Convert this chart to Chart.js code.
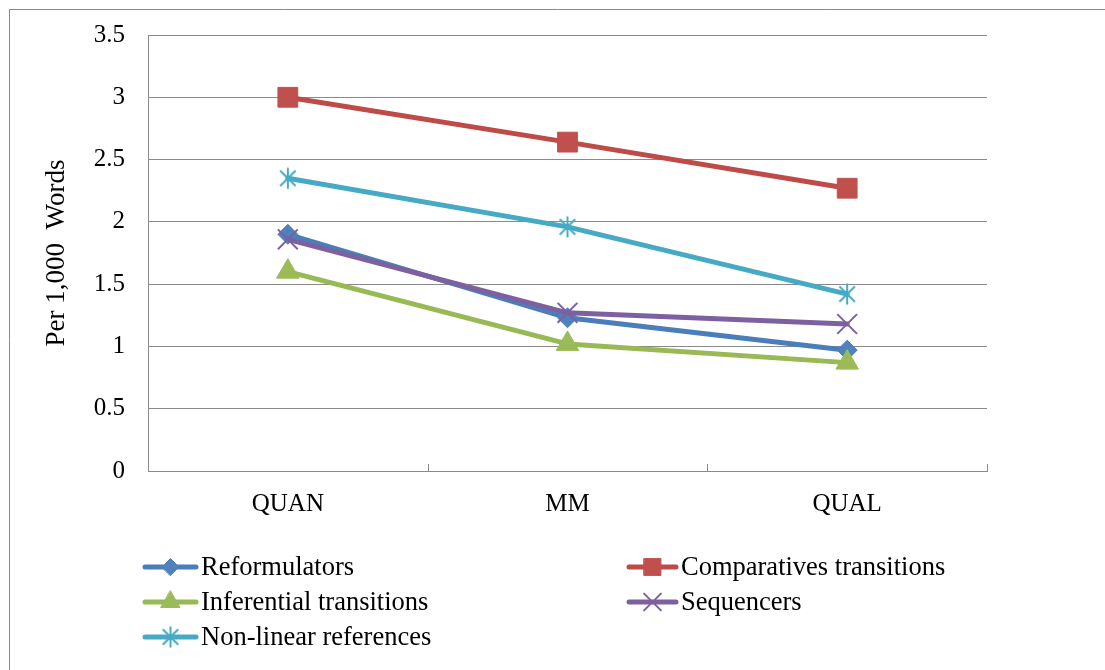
<!DOCTYPE html>
<html>
<head>
<meta charset="utf-8">
<script src="https://cdn.jsdelivr.net/npm/chart.js@4/dist/chart.umd.min.js"></script>
<style>
  html, body { margin: 0; padding: 0; background: #ffffff; }
  #wrap { position: relative; width: 1105px; height: 670px; }
  canvas { display: block; }
</style>
</head>
<body>
<div id="wrap"><canvas id="c" width="1105" height="670"></canvas></div>
<script>
// Research design groups along the x axis
const categories = ['QUAN', 'MM', 'QUAL'];

// Frequency per 1,000 words for each marker type
const reformulators = [1.90, 1.23, 0.97];
const comparativesTransitions = [3.00, 2.64, 2.27];
const inferentialTransitions = [1.60, 1.02, 0.87];
const sequencers = [1.86, 1.27, 1.18];
const nonLinearReferences = [2.35, 1.96, 1.42];

const seriesNames = ['Reformulators', 'Comparatives transitions', 'Inferential transitions', 'Sequencers', 'Non-linear references'];
const yTickValues = [0, 0.5, 1, 1.5, 2, 2.5, 3, 3.5];

const SERIF = '"Liberation Serif", "Times New Roman", serif';
const GRID = '#8a8a8a';

// Six-armed asterisk marker
function makeAsterisk(color) {
  const s = 24, c = document.createElement('canvas');
  c.width = s; c.height = s;
  const g = c.getContext('2d');
  g.strokeStyle = color; g.lineWidth = 2; g.lineCap = 'butt';
  const m = s / 2, r = 10.5, d = r * 0.74;
  g.beginPath();
  g.moveTo(m, m - r); g.lineTo(m, m + r);
  g.moveTo(m - d, m - d); g.lineTo(m + d, m + d);
  g.moveTo(m + d, m - d); g.lineTo(m - d, m + d);
  g.stroke();
  return c;
}

const styles = [
  { color: '#4A7EBB', fill: '#4F81BD', point: 'rectRot', radius: 10, pw: 1 },
  { color: '#BE4B48', fill: '#C0504D', point: 'rect', radius: 14, pw: 1 },
  { color: '#98B954', fill: '#9BBB59', point: 'triangle', radius: 13, pw: 1 },
  { color: '#7D60A0', fill: '#7D60A0', point: 'crossRot', radius: 14, pw: 2 },
  { color: '#46AAC5', fill: '#46AAC5', point: makeAsterisk('#46AAC5'), radius: 12, pw: 2 }
];
const seriesValues = [reformulators, comparativesTransitions, inferentialTransitions, sequencers, nonLinearReferences];

const datasets = seriesValues.map((vals, i) => ({
  label: seriesNames[i],
  data: vals,
  borderColor: styles[i].color,
  backgroundColor: styles[i].fill,
  borderWidth: 5,
  borderCapStyle: 'round',
  borderJoinStyle: 'round',
  tension: 0,
  pointStyle: styles[i].point,
  pointRadius: styles[i].radius,
  pointHoverRadius: styles[i].radius,
  pointBorderColor: styles[i].fill,
  pointBackgroundColor: styles[i].fill,
  pointBorderWidth: styles[i].pw,
  order: seriesValues.length - i
}));

// Outer frame, category ticks and the legend
const decor = {
  id: 'decor',
  beforeDraw(chart) {
    const ctx = chart.ctx;
    ctx.save();
    ctx.fillStyle = '#ffffff';
    ctx.fillRect(0, 0, chart.width, chart.height);
    ctx.strokeStyle = GRID;
    ctx.lineWidth = 1;
    ctx.beginPath();
    ctx.moveTo(9.5, chart.height);
    ctx.lineTo(9.5, 9.5);
    ctx.lineTo(chart.width, 9.5);
    ctx.stroke();
    ctx.restore();
  },
  afterDatasetsDraw(chart) {
    const ctx = chart.ctx, x = chart.scales.x, bottom = chart.chartArea.bottom;
    ctx.save();
    ctx.strokeStyle = GRID;
    ctx.lineWidth = 1;
    ctx.beginPath();
    for (let i = 0; i <= categories.length; i++) {
      const px = Math.round(x.getPixelForValue(i - 0.5)) + 0.5;
      ctx.moveTo(px, bottom);
      ctx.lineTo(px, bottom - 7);
    }
    ctx.stroke();
    ctx.restore();
  },
  afterDraw(chart) {
    const ctx = chart.ctx;
    const cols = [{ x0: 143, x1: 198 }, { x0: 627, x1: 678 }];
    const rows = [567, 602, 637];
    ctx.save();
    ctx.font = '26.5px ' + SERIF;
    ctx.textBaseline = 'middle';
    datasets.forEach((ds, i) => {
      const col = cols[i % 2], y = rows[Math.floor(i / 2)];
      ctx.strokeStyle = ds.borderColor;
      ctx.lineWidth = 5;
      ctx.lineCap = 'round';
      ctx.beginPath();
      ctx.moveTo(col.x0 + 2, y);
      ctx.lineTo(col.x1 - 2, y);
      ctx.stroke();
      const cx = (col.x0 + col.x1) / 2;
      ctx.fillStyle = ds.pointBackgroundColor;
      ctx.strokeStyle = ds.pointBorderColor;
      ctx.lineWidth = ds.pointBorderWidth;
      Chart.helpers.drawPoint(ctx, {
        pointStyle: ds.pointStyle,
        rotation: 0,
        radius: ds.pointRadius * 0.85,
        borderWidth: ds.pointBorderWidth
      }, cx, y);
      ctx.fillStyle = '#000000';
      ctx.fillText(ds.label, col.x1 + 3, y + 1);
    });
    ctx.restore();
  }
};

new Chart(document.getElementById('c'), {
  type: 'line',
  data: { labels: categories, datasets },
  plugins: [decor],
  options: {
    responsive: false,
    animation: false,
    devicePixelRatio: 1,
    layout: { padding: { left: 0, top: 35, right: 118, bottom: 0 } },
    plugins: { legend: { display: false }, tooltip: { enabled: false } },
    scales: {
      x: {
        offset: true,
        grid: { display: true, drawOnChartArea: false, drawTicks: false },
        border: { display: true, color: GRID, width: 1 },
        ticks: { color: '#000000', font: { family: SERIF, size: 25 }, padding: 18, maxRotation: 0 },
        afterFit(scale) {
          scale.height = 199;
          scale.paddingLeft = 0; scale.paddingRight = 0;
        }
      },
      y: {
        min: 0,
        max: 3.5,
        afterBuildTicks(scale) { scale.ticks = yTickValues.map(v => ({ value: v })); },
        grid: { color: GRID, lineWidth: 1, drawTicks: false },
        border: { display: true, color: GRID, width: 1 },
        ticks: { color: '#000000', font: { family: SERIF, size: 25 }, padding: 23, callback: v => String(v) },
        title: { display: true, text: 'Per 1,000  Words', color: '#000000', font: { family: SERIF, size: 27 }, padding: { top: 41, bottom: 0 } },
        afterFit(scale) {
          scale.width = 148;
          scale.paddingTop = 0; scale.paddingBottom = 0;
        }
      }
    }
  }
});
</script>
</body>
</html>
